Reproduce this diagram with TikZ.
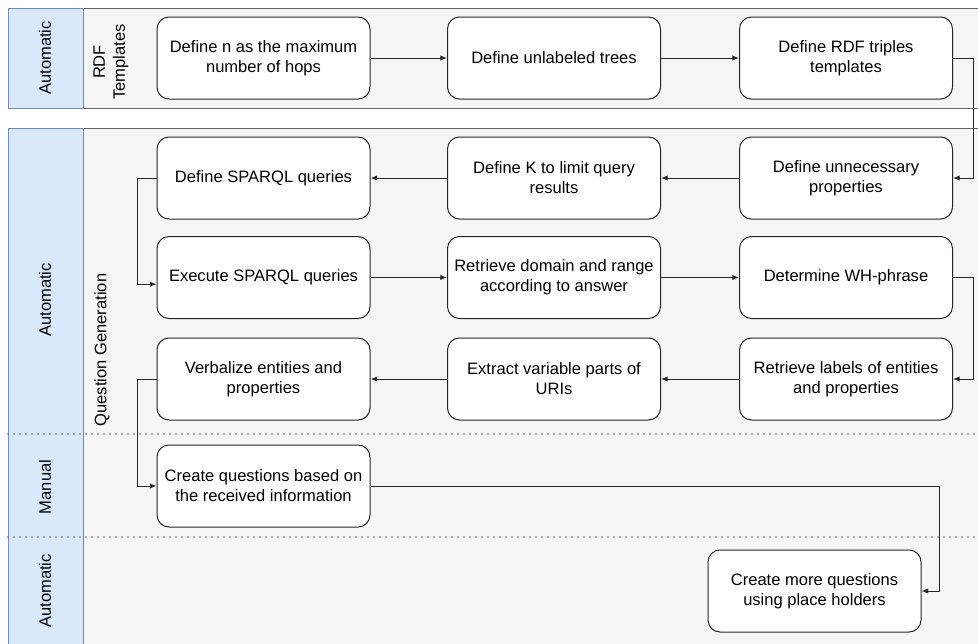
\documentclass[tikz,border=0pt]{standalone}
\usepackage{fontspec}
\setmainfont{Liberation Sans}
\usetikzlibrary{arrows.meta}
\definecolor{poolfill}{HTML}{F5F5F5}
\definecolor{poolline}{HTML}{666666}
\definecolor{hdrfill}{HTML}{DAE8FC}
\definecolor{hdrline}{HTML}{6C8EBF}
\definecolor{sepline}{HTML}{666666}
\tikzset{
  pool/.style={fill=poolfill, draw=poolline, line width=0.75pt},
  hdr/.style={fill=hdrfill, draw=hdrline, line width=0.75pt},
  sep/.style={draw=sepline, line width=1.4pt, line cap=round, dash pattern=on 0pt off 4.5pt},
  stepbox/.style={draw=black!85, fill=white, line width=0.75pt, rounded corners=9pt,
    minimum width=159.75pt, minimum height=61.5pt, inner sep=0pt, align=center,
    font=\fontsize{12.4}{15}\selectfont},
  lanelbl/.style={rotate=90, align=center, font=\fontsize{12.4}{15}\selectfont},
  arr/.style={draw=black!85, line width=0.75pt, -{Latex[length=5pt,width=4pt]}},
}
\begin{document}
\begin{tikzpicture}[x=0.75pt, y=-0.75pt]
\useasboundingbox (0,0) rectangle (978,643);
\clip (0,0) rectangle (978,643);

% pools and lane headers
\draw[pool] (8,8) rectangle (995,108);
\draw[hdr] (8,8) rectangle (83,108);
\draw[pool] (8,128) rectangle (995,660);
\draw[hdr] (8,128) rectangle (83,660);

% lane separators
\draw[sep] (8,434) -- (978,434);
\draw[sep] (8,537) -- (978,537);

% lane labels
\node[lanelbl] (lA1) at (45,58) {Automatic};
\node[lanelbl] (lRDF) at (111,62) {RDF\\Templates};
\node[lanelbl] (lA2) at (45,300) {Automatic};
\node[lanelbl] (lQG) at (102,350) {Question Generation};
\node[lanelbl] (lM) at (45,487) {Manual};
\node[lanelbl] (lA3) at (45,591) {Automatic};

% process steps
\node[stepbox] (b1) at (263.5,58) {Define n as the maximum\\number of hops};
\node[stepbox] (b2) at (554,58) {Define unlabeled trees};
\node[stepbox] (b3) at (846,58) {Define RDF triples\\templates};
\node[stepbox] (b4) at (846,178) {Define unnecessary\\properties};
\node[stepbox] (b5) at (554,178) {Define K to limit query\\results};
\node[stepbox] (b6) at (263.5,178) {Define SPARQL queries};
\node[stepbox] (b7) at (263.5,277.5) {Execute SPARQL queries};
\node[stepbox] (b8) at (554,277.5) {Retrieve domain and range\\according to answer};
\node[stepbox] (b9) at (846,277.5) {Determine WH-phrase};
\node[stepbox] (b10) at (846,379) {Retrieve labels of entities\\and properties};
\node[stepbox] (b11) at (554,379) {Extract variable parts of\\URIs};
\node[stepbox] (b12) at (263.5,379) {Verbalize entities and\\properties};
\node[stepbox] (b13) at (263.5,486) {Create questions based on\\the received information};
\node[stepbox] (b14) at (814.5,591) {Create more questions\\using place holders};

% connectors
\draw[arr] (b1.east) -- (b2.west);
\draw[arr] (b2.east) -- (b3.west);
\draw[arr] (b3.east) -| ([xshift=15pt]b4.east) -- (b4.east);
\draw[arr] (b4.west) -- (b5.east);
\draw[arr] (b5.west) -- (b6.east);
\draw[arr] (b6.west) -| ([xshift=-14.25pt,yshift=-5pt]b7.west) -- ([yshift=-5pt]b7.west);
\draw[arr] (b7.east) -- (b8.west);
\draw[arr] (b8.east) -- (b9.west);
\draw[arr] (b9.east) -| ([xshift=15pt]b10.east) -- (b10.east);
\draw[arr] (b10.west) -- (b11.east);
\draw[arr] (b11.west) -- (b12.east);
\draw[arr] (b12.west) -| ([xshift=-14.25pt]b13.west) -- (b13.west);
\draw[arr] (b13.east) -| ([xshift=13.5pt]b14.east) -- (b14.east);
\end{tikzpicture}
\end{document}
